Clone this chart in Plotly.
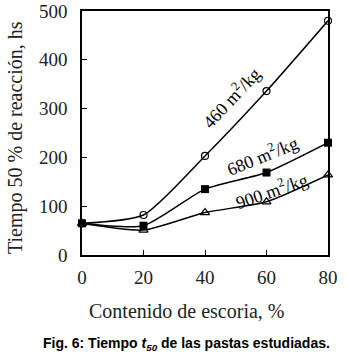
import plotly.graph_objects as go

escoria = [0, 20, 40, 60, 80]
t460 = [65, 82, 203, 336, 480]
t680 = [65, 60, 135, 169, 230]
t900 = [65, 51, 87, 109, 164]
x_ticks = [0, 20, 40, 60, 80]
y_ticks = [0, 100, 200, 300, 400, 500]

fig = go.Figure()
line = dict(color="black", width=1.5, shape="spline", smoothing=0.6)
fig.add_trace(go.Scatter(x=escoria, y=t460, mode="lines+markers", line=line,
                         marker=dict(symbol="circle-open", size=7, color="black", line=dict(width=1.2))))
fig.add_trace(go.Scatter(x=escoria, y=t680, mode="lines+markers", line=line,
                         marker=dict(symbol="square", size=8, color="black")))
fig.add_trace(go.Scatter(x=escoria, y=t900, mode="lines+markers", line=line,
                         marker=dict(symbol="triangle-up-open", size=8, color="black", line=dict(width=1.2))))

serif = "Liberation Serif"
fig.add_annotation(x=48.5, y=322, text="460 m<sup>2</sup>/kg", showarrow=False, textangle=-47,
                   font=dict(family=serif, size=18, color="black"))
fig.add_annotation(x=58.6, y=203, text="680 m<sup>2</sup>/kg", showarrow=False, textangle=-22,
                   font=dict(family=serif, size=18, color="black"))
fig.add_annotation(x=61.6, y=133, text="900 m<sup>2</sup>/kg", showarrow=False, textangle=-19,
                   font=dict(family=serif, size=18, color="black"))
# axis titles and caption (page pixel positions relative to plot area 82..328 x 11..255)
fig.add_annotation(x=(187 - 82) / 246, y=-(311 - 255) / 244, xref="paper", yref="paper",
                   xanchor="center", yanchor="middle", text="Contenido de escoria, %", showarrow=False,
                   font=dict(family=serif, size=20, color="#222"))
fig.add_annotation(x=(15 - 82) / 246, y=(255 - 138) / 244, xref="paper", yref="paper",
                   xanchor="center", yanchor="middle", text="Tiempo 50 % de reacción, hs", showarrow=False,
                   textangle=-90, font=dict(family=serif, size=20, color="#222"))
fig.add_annotation(x=(186 - 82) / 246, y=-(344 - 255) / 244, xref="paper", yref="paper",
                   xanchor="center", yanchor="middle",
                   text="<b>Fig. 6: Tiempo <i>t</i><sub><i>50</i></sub> de las pastas estudiadas.</b>",
                   showarrow=False, font=dict(family="Liberation Sans", size=14, color="black"))

axis_common = dict(showgrid=False, zeroline=False, showline=True, linecolor="black", linewidth=1.5,
                   mirror=True, ticks="inside", ticklen=5, tickcolor="black", tickwidth=1,
                   automargin=False, tickfont=dict(family=serif, size=19, color="#222"))
fig.update_xaxes(range=[0, 80], tickvals=x_ticks, ticklabelstandoff=4, **axis_common)
fig.update_yaxes(range=[0, 500], tickvals=y_ticks, ticklabelstandoff=9, **axis_common)

fig.update_layout(width=347, height=360, margin=dict(l=82, r=19, t=11, b=105),
                  plot_bgcolor="white", paper_bgcolor="white", showlegend=False)
fig.update_traces(cliponaxis=False)
fig.write_html("out.html", config={"displayModeBar": False},
               post_script="document.body.style.margin='0px';")
